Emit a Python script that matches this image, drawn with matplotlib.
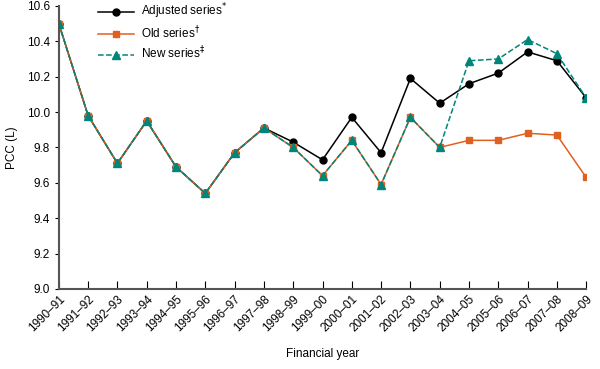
import numpy as np
import matplotlib.pyplot as plt

plt.rcParams['font.family'] = ['Liberation Sans', 'DejaVu Sans']

# Financial years and per-capita consumption values (L)
years = ["1990\u201391", "1991\u201392", "1992\u201393", "1993\u201394", "1994\u201395",
         "1995\u201396", "1996\u201397", "1997\u201398", "1998\u201399", "1999\u201300",
         "2000\u201301", "2001\u201302", "2002\u201303", "2003\u201304", "2004\u201305",
         "2005\u201306", "2006\u201307", "2007\u201308", "2008\u201309"]
adjusted = [10.50, 9.98, 9.71, 9.95, 9.69, 9.54, 9.77, 9.91, 9.83, 9.73,
            9.97, 9.77, 10.19, 10.05, 10.16, 10.22, 10.34, 10.29, 10.08]
old = [10.50, 9.98, 9.71, 9.95, 9.69, 9.54, 9.77, 9.91, 9.80, 9.64,
       9.84, 9.59, 9.97, 9.80, 9.84, 9.84, 9.88, 9.87, 9.63]
new = [10.50, 9.98, 9.71, 9.95, 9.69, 9.54, 9.77, 9.91, 9.80, 9.64,
       9.84, 9.59, 9.97, 9.80, 10.29, 10.30, 10.41, 10.33, 10.08]

x = np.arange(len(years))
fs = 8.5

fig = plt.figure(figsize=(6, 3.69), dpi=100)
ax = fig.add_axes([0.098, 0.217, 0.879, 0.767])

ax.plot(x, adjusted, color='black', marker='o', markersize=5, linewidth=1.1,
        label=r"Adjusted series$^{*}$")
ax.plot(x, old, color='#E0601F', marker='s', markersize=5, linewidth=1.1,
        label=r"Old series$^{\dagger}$")
ax.plot(x, new, color='#00857A', marker='^', markersize=6, linewidth=1.1,
        linestyle='--', label=r"New series$^{\ddagger}$")

ax.set_xlim(0, len(years) - 1)
ax.set_ylim(9.0, 10.6)
ax.set_yticks(np.arange(9.0, 10.61, 0.2))
ax.set_yticklabels([f"{v:.1f}" for v in np.arange(9.0, 10.61, 0.2)])
ax.set_xticks(x)
ax.set_xticklabels(years, rotation=45, ha='right', rotation_mode='anchor')

for s in ['top', 'right']:
    ax.spines[s].set_visible(False)
for s in ['left', 'bottom']:
    ax.spines[s].set_color('#555555')
    ax.spines[s].set_linewidth(1.5)
ax.tick_params(axis='x', direction='in', length=6, labelsize=fs, pad=3)
ax.tick_params(axis='y', direction='out', length=3, labelsize=fs)

ax.set_ylabel("PCC (L)", fontsize=fs, labelpad=6)
ax.set_xlabel("Financial year", fontsize=fs, labelpad=10)

ax.legend(loc='upper left', bbox_to_anchor=(0.055, 1.052), frameon=False,
          fontsize=fs, handlelength=3.0, labelspacing=0.3, handletextpad=0.6)

plt.savefig("out.png", dpi=100)
